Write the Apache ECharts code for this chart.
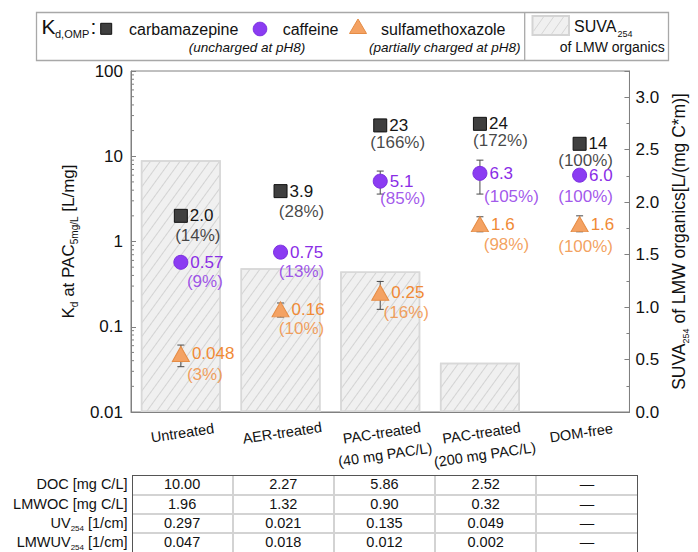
<!DOCTYPE html>
<html>
<head>
<meta charset="utf-8">
<script src="https://cdn.jsdelivr.net/npm/echarts@6/dist/echarts.min.js"></script>
<style>
  html, body { margin: 0; padding: 0; background: #fff; }
  #wrap { position: relative; width: 698px; height: 552px; overflow: hidden;
          font-family: 'Liberation Sans', Arial, sans-serif; color: #111; }
  #chart { position: absolute; left: 0; top: 0; width: 698px; height: 552px; }
  .tcell { position: absolute; text-align: center; font-size: 14.5px; line-height: 19px; white-space: nowrap; }
  .rlab { position: absolute; text-align: right; font-size: 14.5px; line-height: 19px; white-space: nowrap; }
  .rlab sub { font-size: 8px; vertical-align: -3px; }
</style>
</head>
<body>
<div id="wrap">
  <div id="chart"></div>
  <div id="table"></div>
</div>
<script>
// ---- data -------------------------------------------------------------
const categories = ['Untreated', 'AER-treated', 'PAC-treated\n(40 mg PAC/L)', 'PAC-treated\n(200 mg PAC/L)', 'DOM-free'];

// SUVA254 of the low-molecular-weight organics [L/(mg C*m)]
const suvaLMW = [2.40, 1.37, 1.34, 0.47, null];

// Kd at PAC 5 mg/L [L/mg], with error range and share of the DOM-free value
const kdCBZ     = [2.0, 3.9, 23, 24, 14];
const kdCBZLow  = [1.9, 3.7, 19.5, 23, 13.5];
const kdCBZHigh = [2.1, 4.1, 27, 25, 14.5];
const pctCBZ    = [14, 28, 166, 172, 100];

const kdCAF     = [0.57, 0.75, 5.1, 6.3, 6.0];
const kdCAFLow  = [0.54, 0.68, 3.6, 3.6, 5.4];
const kdCAFHigh = [0.60, 0.83, 6.7, 9.0, 6.6];
const pctCAF    = [9, 13, 85, 105, 100];

const kdSMX     = [0.048, 0.16, 0.25, 1.6, 1.6];
const kdSMXLow  = [0.034, 0.13, 0.16, 1.3, 1.3];
const kdSMXHigh = [0.061, 0.19, 0.34, 1.95, 2.0];
const pctSMX    = [3, 10, 16, 98, 100];

// minor tick positions of the logarithmic Kd axis
const kdMinorTicks = [
  0.02, 0.03, 0.04, 0.05, 0.06, 0.07, 0.08, 0.09,
  0.2, 0.3, 0.4, 0.5, 0.6, 0.7, 0.8, 0.9,
  2, 3, 4, 5, 6, 7, 8, 9,
  20, 30, 40, 50, 60, 70, 80, 90
];

// water quality table under the chart
const rowHeads = [
  ['DOC', '', ' [mg C/L]'],
  ['LMWOC', '', ' [mg C/L]'],
  ['UV', '254', ' [1/cm]'],
  ['LMWUV', '254', ' [1/cm]']
];
const rowDOC   = ['10.00', '2.27', '5.86', '2.52', '\u2014'];
const rowLMWOC = ['1.96', '1.32', '0.90', '0.32', '\u2014'];
const rowUV    = ['0.297', '0.021', '0.135', '0.049', '\u2014'];
const rowLMWUV = ['0.047', '0.018', '0.012', '0.002', '\u2014'];

// ---- label placement (percent labels, offset from the marker) ---------
const pctShiftCBZ = [[17, 19.5], [21, 20], [17.5, 17], [20.5, 16.5], [6, 16.5]];
const pctShiftCAF = [[24, 19], [21, 19], [22.5, 17], [31.5, 23], [6, 21]];
const pctShiftSMX = [[24, 21], [21, 19], [26, 20], [26.5, 20.5], [6, 22]];

// ---- styles -----------------------------------------------------------
const FONT = "'Liberation Sans', Arial, sans-serif";
const AXIS_GRAY = '#808080';
const CBZ_FILL = '#3f3f3f', CBZ_TEXT = '#161616';
const CAF_FILL = '#8b3cf2', CAF_TEXT = '#8a2de6';
const SMX_FILL = '#f4a263', SMX_TEXT = '#f08a36';

const chart = echarts.init(document.getElementById('chart'), null, { renderer: 'svg' });

function markerSeries(name, values, symbol, size, fill, border, textColor) {
  return {
    name, type: 'scatter', xAxisIndex: 0, yAxisIndex: 0, z: 5, silent: true,
    symbol, symbolSize: size,
    itemStyle: { color: fill, borderColor: border, borderWidth: 1, opacity: 1 },
    label: {
      show: true, position: 'right', distance: 2, fontSize: 17, fontFamily: FONT,
      color: textColor, formatter: p => p.value[1].toPrecision(2)
    },
    data: values.map((v, i) => [i, v])
  };
}

function pctSeries(name, values, pcts, shifts, textColor) {
  return {
    name, type: 'scatter', xAxisIndex: 0, yAxisIndex: 0, z: 6, silent: true,
    symbolSize: 1, itemStyle: { color: 'rgba(0,0,0,0)' },
    label: { show: true, position: 'inside', fontSize: 17, fontFamily: FONT, color: textColor },
    data: values.map((v, i) => ({
      value: [i, v],
      label: { offset: shifts[i], formatter: '(' + pcts[i] + '%)' }
    }))
  };
}

function errorSeries(name, low, high) {
  return {
    name, type: 'custom', xAxisIndex: 0, yAxisIndex: 0, z: 4, silent: true,
    data: low.map((l, i) => [i, l, high[i]]),
    encode: { x: 0, y: [1, 2] },
    renderItem(params, api) {
      const pLow = api.coord([api.value(0), api.value(1)]);
      const pHigh = api.coord([api.value(0), api.value(2)]);
      const x = pLow[0];
      const st = { stroke: '#4a4a4a', lineWidth: 1 };
      return {
        type: 'group', children: [
          { type: 'line', shape: { x1: x, y1: pLow[1], x2: x, y2: pHigh[1] }, style: st },
          { type: 'line', shape: { x1: x - 3.5, y1: pLow[1], x2: x + 3.5, y2: pLow[1] }, style: st },
          { type: 'line', shape: { x1: x - 3.5, y1: pHigh[1], x2: x + 3.5, y2: pHigh[1] }, style: st }
        ]
      };
    }
  };
}

// short inward ticks at the log axis minor positions
function logMinorTickSeries(values) {
  return {
    name: 'kd minor ticks', type: 'custom', xAxisIndex: 0, yAxisIndex: 0, z: 3, silent: true,
    data: values.map(v => [0, v]),
    encode: { y: 1 },
    clip: false,
    renderItem(params, api) {
      const y = api.coord([0, api.value(1)])[1];
      const x = params.coordSys.x;
      return { type: 'line', shape: { x1: x, y1: y, x2: x + 3, y2: y },
               style: { stroke: AXIS_GRAY, lineWidth: 1 } };
    }
  };
}

// diagonal hatch lines clipped to a rectangle (legend swatch)
function hatch(x0, y0, w, h, step, angleDeg, color) {
  const t = Math.tan(angleDeg * Math.PI / 180);
  const yb = y0 + h;
  const out = [];
  for (let c = x0 - h / t; c < x0 + w; c += step) {
    const yTop = Math.max(y0, yb - (x0 + w - c) * t);
    const yBot = Math.min(yb, yb - (x0 - c) * t);
    if (yBot <= yTop) continue;
    const xa = c + (yb - yBot) / t, xb = c + (yb - yTop) / t;
    out.push({ type: 'line', z: 20, silent: true,
      shape: { x1: xa, y1: yBot, x2: xb, y2: yTop }, style: { stroke: color, lineWidth: 1 } });
  }
  return out;
}

function txt(text, x, y, size, opts) {
  const o = opts || {};
  return {
    type: 'text', z: 20, silent: true, x: x, y: y,
    style: {
      text: text, fontSize: size, fontFamily: FONT, fontStyle: o.italic ? 'italic' : 'normal',
      fill: o.color || '#111',
      textAlign: o.align || 'left', align: o.align || 'left',
      textVerticalAlign: 'middle', verticalAlign: 'middle'
    }
  };
}

const legendGraphics = [
  { type: 'rect', z: 19, silent: true, shape: { x: 36.5, y: 12.5, width: 632, height: 48 },
    style: { fill: '#fff', stroke: '#a8a8a8', lineWidth: 1.3 } },
  { type: 'line', z: 20, silent: true, shape: { x1: 524.7, y1: 12.5, x2: 524.7, y2: 60.5 },
    style: { stroke: '#a8a8a8', lineWidth: 1.3 } },
  txt('K', 41.5, 26, 21),
  txt('d,OMP', 55, 33.5, 11),
  txt(':', 90.5, 26, 21),
  { type: 'rect', z: 20, silent: true, shape: { x: 100.7, y: 23.3, width: 11, height: 11 },
    style: { fill: CBZ_FILL, stroke: '#111', lineWidth: 1 } },
  txt('carbamazepine', 129, 29.3, 16),
  { type: 'circle', z: 20, silent: true, shape: { cx: 260, cy: 29, r: 6.8 },
    style: { fill: CAF_FILL, stroke: '#7a2ee0', lineWidth: 1 } },
  txt('caffeine', 282.7, 29.3, 16),
  { type: 'polygon', z: 20, silent: true, shape: { points: [[349.5, 33.5], [366.5, 33.5], [358, 19]] },
    style: { fill: SMX_FILL, stroke: '#e58c45', lineWidth: 1 } },
  txt('sulfamethoxazole', 381, 29.3, 16),
  txt('(uncharged at pH8)', 247, 47.3, 13.5, { italic: true, align: 'center' }),
  txt('(partially charged at pH8)', 444.7, 47.3, 13.5, { italic: true, align: 'center' }),
  { type: 'rect', z: 20, silent: true, shape: { x: 532.5, y: 16, width: 36.5, height: 19 },
    style: { fill: '#f0f0f0', stroke: '#d4d4d4', lineWidth: 2 } }
].concat(hatch(533.5, 17, 34.5, 17, 10, 55, '#d6d6d6')).concat([
  txt('SUVA', 574, 26.7, 16),
  txt('254', 617.5, 33.5, 9),
  txt('of LMW organics', 664.7, 46.7, 14, { align: 'right' })
]);

const option = {
  animation: false,
  textStyle: { fontFamily: FONT },
  grid: { left: 131, right: 61, top: 71, bottom: 140, show: true,
          borderColor: AXIS_GRAY, borderWidth: 1, backgroundColor: 'transparent' },
  xAxis: {
    type: 'category', data: categories, boundaryGap: true,
    axisLine: { lineStyle: { color: AXIS_GRAY } },
    axisTick: { show: false },
    axisLabel: { interval: 0, rotate: 8.5, align: 'center', verticalAlign: 'top', margin: 10,
                 fontSize: 14.5, lineHeight: 22, color: '#111', fontFamily: FONT },
    splitLine: { show: false }
  },
  yAxis: [
    {
      type: 'log', logBase: 10, min: 0.01, max: 100, position: 'left',
      name: '{m|K}{s|d}{m| at PAC}{s|5mg/L}{m| [L/mg]}',
      nameLocation: 'middle', nameGap: 48, nameRotate: 90,
      nameTextStyle: { rich: {
        m: { fontSize: 17, fontFamily: FONT, color: '#111', lineHeight: 22 },
        s: { fontSize: 10, fontFamily: FONT, color: '#111', lineHeight: 22, verticalAlign: 'bottom' }
      } },
      axisLine: { show: true, lineStyle: { color: AXIS_GRAY } },
      axisTick: { show: true, inside: true, length: 5, lineStyle: { color: AXIS_GRAY } },
      minorTick: { show: false },
      axisLabel: { fontSize: 17, color: '#111', margin: 8, fontFamily: FONT,
                   formatter: v => String(+(+v).toPrecision(1)) },
      splitLine: { show: false }, minorSplitLine: { show: false }
    },
    {
      type: 'value', min: 0, max: 3.25, interval: 0.5, position: 'right',
      name: '{m|SUVA}{s|254}{m| of LMW organics[L/(mg C*m)]}',
      nameLocation: 'middle', nameGap: 35, nameRotate: 90,
      nameTextStyle: { rich: {
        m: { fontSize: 17.5, fontFamily: FONT, color: '#111', lineHeight: 22 },
        s: { fontSize: 9, fontFamily: FONT, color: '#111', lineHeight: 22, verticalAlign: 'bottom' }
      } },
      axisLine: { show: true, lineStyle: { color: AXIS_GRAY } },
      axisTick: { show: true, inside: true, length: 5, lineStyle: { color: AXIS_GRAY } },
      minorTick: { show: true, splitNumber: 2, length: 3, lineStyle: { color: AXIS_GRAY } },
      axisLabel: { fontSize: 17, color: '#111', margin: 6, fontFamily: FONT,
                   formatter: v => (Math.abs(v * 2 - Math.round(v * 2)) < 1e-9 ? v.toFixed(1) : '') },
      splitLine: { show: false }, minorSplitLine: { show: false }
    }
  ],
  series: [
    {
      name: 'SUVA254 of LMW organics', type: 'bar', xAxisIndex: 0, yAxisIndex: 1, z: 1, silent: true,
      barWidth: 80, data: suvaLMW,
      itemStyle: {
        color: '#f0f0f0', borderColor: '#d8d8d8', borderWidth: 1.5,
        decal: { symbol: 'rect', symbolSize: 1, dashArrayX: [1, 0], dashArrayY: [1, 7],
                 rotation: -Math.PI * 0.3, color: '#d3d3d3' }
      }
    },
    logMinorTickSeries(kdMinorTicks),
    errorSeries('cbz error', kdCBZLow, kdCBZHigh),
    errorSeries('caf error', kdCAFLow, kdCAFHigh),
    errorSeries('smx error', kdSMXLow, kdSMXHigh),
    markerSeries('carbamazepine', kdCBZ, 'rect', 13, CBZ_FILL, '#111', CBZ_TEXT),
    markerSeries('caffeine', kdCAF, 'circle', 14, CAF_FILL, '#7a2ee0', CAF_TEXT),
    markerSeries('sulfamethoxazole', kdSMX, 'triangle', [17, 15], SMX_FILL, '#e58c45', SMX_TEXT),
    pctSeries('carbamazepine %', kdCBZ, pctCBZ, pctShiftCBZ, CBZ_TEXT),
    pctSeries('caffeine %', kdCAF, pctCAF, pctShiftCAF, CAF_TEXT),
    pctSeries('sulfamethoxazole %', kdSMX, pctSMX, pctShiftSMX, SMX_TEXT)
  ],
  graphic: legendGraphics
};
chart.setOption(option);

// ---- table ------------------------------------------------------------
(function buildTable() {
  const host = document.getElementById('table');
  const left = 131.5, top = 475.3, colW = 101.2, rowH = 19.3, nCols = 5;
  const rows = [rowDOC, rowLMWOC, rowUV, rowLMWUV];
  let html = '';
  for (let c = 1; c < nCols; c++) {
    html += '<div style="position:absolute;left:' + (left + c * colW - 1) + 'px;top:' + top +
            'px;width:2px;height:' + (rows.length * rowH) + 'px;background:#d3d3d3"></div>';
  }
  for (let r = 1; r < rows.length; r++) {
    html += '<div style="position:absolute;left:' + left + 'px;top:' + (top + r * rowH - 1) +
            'px;width:' + (nCols * colW) + 'px;height:2px;background:#d3d3d3"></div>';
  }
  html += '<div style="position:absolute;left:' + left + 'px;top:' + top + 'px;width:' + (nCols * colW - 2) +
          'px;height:' + (rows.length * rowH) + 'px;border:1px solid #555"></div>';
  rows.forEach((vals, r) => {
    const head = rowHeads[r];
    html += '<div class="rlab" style="left:0;width:127.5px;top:' + (top + r * rowH) + 'px;height:' + rowH + 'px">' +
            head[0] + (head[1] ? '<sub>' + head[1] + '</sub>' : '') + head[2] + '</div>';
    vals.forEach((v, c) => {
      html += '<div class="tcell" style="left:' + (left + c * colW) + 'px;width:' + colW + 'px;top:' +
              (top + r * rowH) + 'px;height:' + rowH + 'px">' + v + '</div>';
    });
  });
  host.innerHTML = html;
})();
</script>
</body>
</html>
